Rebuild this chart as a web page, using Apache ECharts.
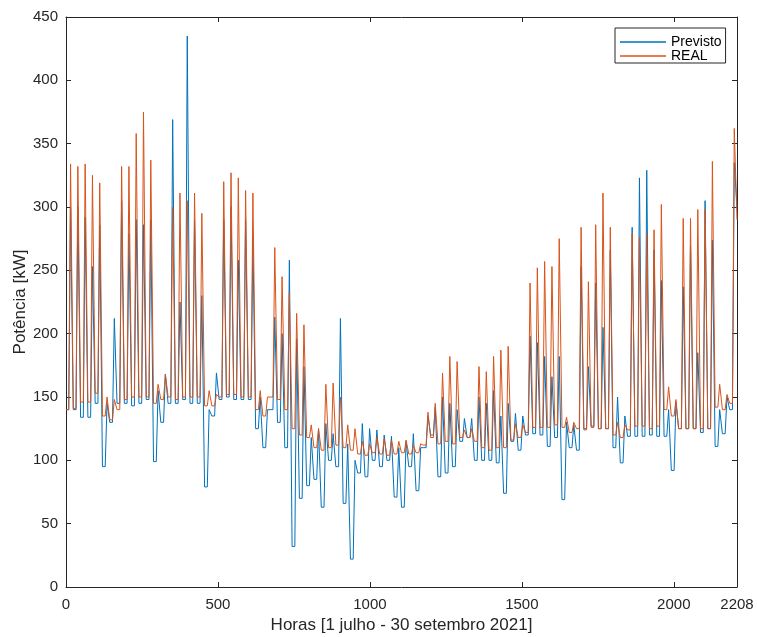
<!DOCTYPE html>
<html>
<head>
  <meta charset="UTF-8">
  <title>Potência prevista vs real</title>
  <script src="https://cdn.jsdelivr.net/npm/echarts@6/dist/echarts.min.js"></script>
  <style>
    html, body { margin: 0; padding: 0; background: #fff; }
    #main { width: 757px; height: 637px; }
  </style>
</head>
<body>
<div id="main"></div>
<script>
  // valores: mínimo nocturno e máximo diário de cada dia (92 dias)
  var realLow = [140,141,146,146,153,135,132, 140,148,150,150,150,145,148,
    150,148,150,150,150,143,143, 150,152,152,150,150,140,135,
    150,148,140,125,120,118,110, 108,110,112,110,108,105,104,
    106,105,104,105,106,105,106, 112,118,113,115,113,118,118,
    115,110,108,110,110,116,118, 122,126,126,126,128,126,122,
    125,124,126,125,125,120,118, 124,127,127,125,127,140,135,
    125,125,125,125,125,142,140, 145];
  var realHigh = [334,332,334,325,319,150,148, 332,332,358,375,337,160,168,
    300,311,305,311,295,155,152, 320,327,323,313,311,155,150,
    268,245,232,216,207,128,125, 160,161,150,128,125,115,113,
    118,117,116,115,116,112,113, 138,145,169,182,178,124,125,
    174,170,182,187,190,129,128, 240,252,257,253,275,134,130,
    284,241,286,311,284,130,128, 279,276,279,282,302,158,148,
    291,291,298,298,336,160,152, 362];
  var realEnd = 290;

  var prevLow = [140,140,134,134,145,95,130, 145,145,143,145,148,99,130,
    145,145,148,145,145,79,135, 148,150,148,148,148,125,110,
    140,130,110,32,70,80,85, 63,100,95,66,22,90,87,
    100,95,100,71,63,95,76, 110,120,87,90,95,115,118,
    100,100,100,98,74,115,108, 120,121,120,111,118,69,110,
    108,125,127,125,125,110,98, 119,119,119,120,119,119,92,
    125,125,125,122,125,111,121, 140];
  var prevHigh = [300,300,292,253,286,145,212, 305,279,290,286,290,155,168,
    369,225,435,290,230,140,169, 290,300,258,290,275,150,140,
    213,200,258,196,174,118,125, 129,121,212,113,100,129,125,
    124,120,119,110,115,121,110, 135,142,150,145,140,133,133,
    150,145,155,135,145,137,135, 198,193,182,166,182,130,128,
    253,174,240,205,266,150,135, 284,323,329,266,242,140,146,
    237,269,185,305,274,140,150, 335];
  var prevEnd = 300;

  var xTicks = [0, 500, 1000, 1500, 2000, 2208];
  var hoursPerDay = 24;
  var totalHours = 2208;

  // noite (0h-9h) no mínimo, pico às 15h
  function buildSeries(low, high, end) {
    var pts = [];
    for (var d = 0; d < low.length; d++) {
      var h0 = d * hoursPerDay;
      pts.push([h0, low[d]]);
      pts.push([h0 + 9, low[d]]);
      pts.push([h0 + 15, high[d]]);
    }
    pts.push([totalHours, end]);
    return pts;
  }

  var axisColor = '#262626';
  var font = 'Liberation Sans, Arial, sans-serif';

  var option = {
    backgroundColor: '#fff',
    animation: false,
    grid: { left: 66, right: 20, top: 17, bottom: 50, containLabel: false, outerBoundsMode: 'none' },
    legend: {
      data: ['Previsto', 'REAL'],
      orient: 'vertical',
      left: 615,
      top: 28,
      icon: 'rect',
      backgroundColor: '#fff',
      borderColor: axisColor,
      borderWidth: 1,
      borderRadius: 0,
      padding: [7, 4, 0, 5],
      itemGap: 0,
      itemWidth: 46,
      itemHeight: 1.5,
      textStyle: { fontFamily: font, fontSize: 14, color: '#000' }
    },
    xAxis: [{
      type: 'value', min: 0, max: totalHours,
      name: 'Horas [1 julho - 30 setembro 2021]',
      nameLocation: 'middle', nameGap: 25,
      nameTextStyle: { fontFamily: font, fontSize: 17, color: axisColor },
      axisLine: { show: true, onZero: false, lineStyle: { color: axisColor } },
      axisTick: { inside: true, length: 5, customValues: xTicks, lineStyle: { color: axisColor } },
      axisLabel: {
        customValues: xTicks, fontFamily: font, fontSize: 15, color: axisColor, margin: 10,
        formatter: function (v) { return String(v); }
      },
      splitLine: { show: false }
    }, {
      type: 'value', min: 0, max: totalHours, position: 'top',
      axisLine: { show: true, onZero: false, lineStyle: { color: axisColor } },
      axisTick: { inside: true, length: 5, customValues: xTicks, lineStyle: { color: axisColor } },
      axisLabel: { show: false },
      splitLine: { show: false }
    }],
    yAxis: [{
      type: 'value', min: 0, max: 450, interval: 50,
      name: 'Potência [kW]',
      nameLocation: 'middle', nameGap: 37, nameMoveOverlap: false,
      nameTextStyle: { fontFamily: font, fontSize: 17, color: axisColor },
      axisLine: { show: true, onZero: false, lineStyle: { color: axisColor } },
      axisTick: { show: true, inside: true, length: 5, lineStyle: { color: axisColor } },
      axisLabel: { fontFamily: font, fontSize: 15, color: axisColor, margin: 8 },
      splitLine: { show: false }
    }, {
      type: 'value', min: 0, max: 450, interval: 50, position: 'right',
      axisLine: { show: true, onZero: false, lineStyle: { color: axisColor } },
      axisTick: { show: true, inside: true, length: 5, lineStyle: { color: axisColor } },
      axisLabel: { show: false },
      splitLine: { show: false }
    }],
    series: [{
      name: 'Previsto',
      type: 'line',
      symbol: 'none',
      color: '#0072BD',
      lineStyle: { width: 1, color: '#0072BD' },
      data: buildSeries(prevLow, prevHigh, prevEnd)
    }, {
      name: 'REAL',
      type: 'line',
      symbol: 'none',
      color: '#D95319',
      lineStyle: { width: 1, color: '#D95319' },
      data: buildSeries(realLow, realHigh, realEnd)
    }]
  };

  echarts.init(document.getElementById('main')).setOption(option);
</script>
</body>
</html>
